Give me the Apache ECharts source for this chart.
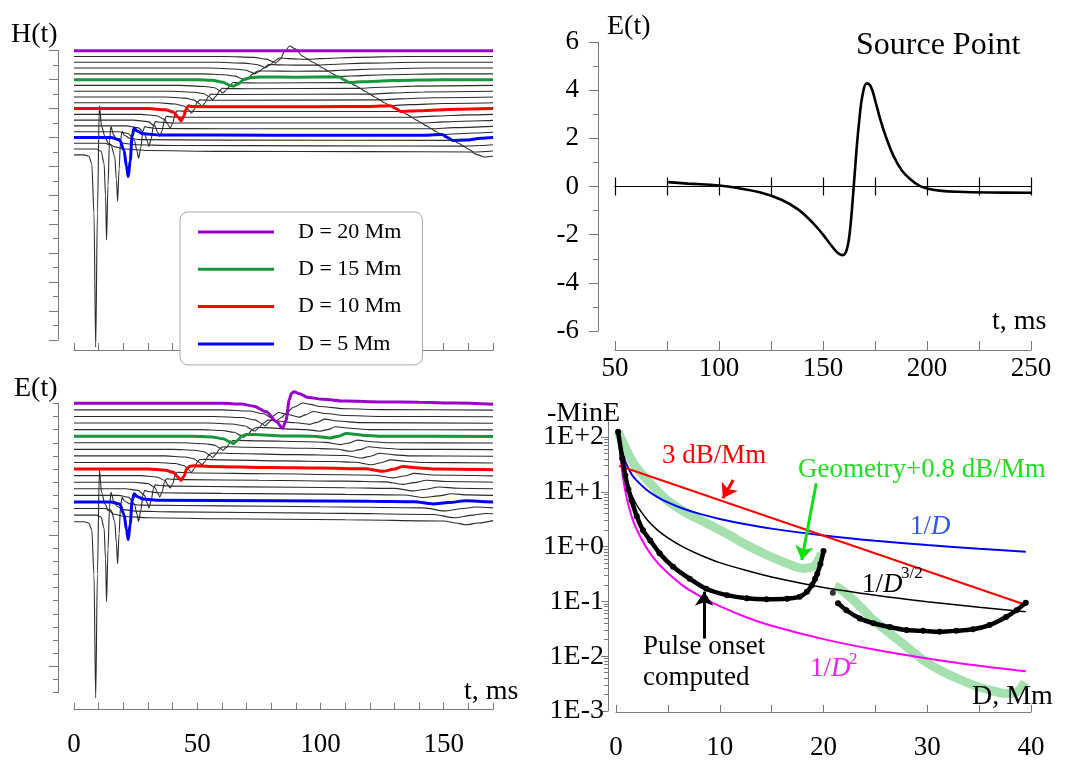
<!DOCTYPE html>
<html><head><meta charset="utf-8">
<script src="https://cdn.jsdelivr.net/npm/echarts@6/dist/echarts.min.js"></script>
<style>html,body{margin:0;padding:0;background:#fff}#c{width:1085px;height:760px}</style>
</head><body><div id="c"></div>
<script>
const FONT = "'Liberation Serif','Times New Roman',serif";
const G = '#7a7a7a';

// ---------- waterfall panels: distances, baselines ----------
const distances = [2,3,4,5,6,7,8,9,10,11,12,13,14,15,16,17,18,19,20];
const hBase = [12.8,13.2,13.6,14.0,14.4,14.8,15.2,15.6,16.0,16.4,16.8,17.2,17.6,18.0,18.4,18.8,19.2,19.6,20.0];
const eBase = [13,13.5,14,14.5,15,15.5,16,16.5,17,17.5,18,18.5,19,19.5,20,20.5,21,21.5,22];
const legendNames = ['D = 20 Mm','D = 15 Mm','D = 10 Mm','D = 5 Mm'];
const legendD = [20,15,10,5];
const legendColors = ['#9900cc','#17963a','#ff0000','#0000ff'];
const tLabels = [0,50,100,150];

// ---------- H(t) traces [t ms, value relative to baseline] ----------
const hD2 = [[0,0],[4,0],[6,-0.1],[7.2,-0.6],[8.1,-4],[8.8,-13.3],[9.5,-4],[10.3,3.4],[11.2,1.95],[12.6,1.25],[13.9,0.8],[16.6,0.55],[20.7,0.4],[30,0.3],[60,0.24],[120,0.22],[161,0.2],[164,0],[166.5,-0.15],[170,-0.1]];
const hD3 = [[0,0],[9,0],[11,-0.15],[12.2,-1],[12.8,-3.2],[13.2,-6.3],[13.8,-2.5],[14.4,0.6],[15,1.56],[16,1],[17.5,0.6],[20,0.4],[25,0.3],[40,0.25],[100,0.22],[157.9,0.2],[160,0],[162.1,-0.2],[170,-0.13]];
const hD4 = [[0,0],[12.5,0],[15,-0.12],[16.5,-0.9],[17.2,-2.5],[17.7,-4],[18.3,-1.8],[18.9,0.2],[19.5,0.81],[20.5,0.55],[22.5,0.35],[27,0.25],[60,0.22],[153.9,0.2],[156,0],[158.1,-0.2],[170,-0.1]];
const hD5 = [[0,0],[15,0],[18.5,-0.15],[20.3,-0.9],[21.3,-2],[22,-2.7],[22.8,-1.6],[23.6,0.1],[24.4,0.65],[25.6,0.45],[28,0.25],[35,0.18],[80,0.15],[140,0.15],[149.4,0.2],[151.5,0],[153.6,-0.2],[159,-0.18],[165,-0.05],[170,0]];
const hD6 = [[0,0],[18,0],[22,-0.12],[24.5,-0.6],[25.5,-1.3],[26.2,-1.83],[27.1,-1.1],[28,0.05],[28.7,0.36],[30,0.3],[34,0.22],[60,0.2],[144.9,0.2],[147,0],[149.1,-0.2],[158,-0.12],[170,-0.04]];
const hD7 = [[0,0],[21,0],[26,-0.12],[28.6,-0.5],[29.7,-1.05],[30.4,-1.42],[31.3,-0.9],[32.2,0],[33,0.3],[35,0.25],[40,0.2],[140.9,0.2],[143,0],[145.1,-0.2],[154,-0.12],[170,-0.03]];
const hD8 = [[0,0],[24,0],[30,-0.1],[32.8,-0.4],[34,-0.85],[34.8,-1.13],[35.8,-0.7],[36.7,0],[37.5,0.27],[40,0.22],[45,0.2],[136.9,0.2],[139,0],[141.1,-0.2],[150,-0.12],[165,-0.04],[170,-0.02]];
const hD9 = [[0,0],[27,0],[33.5,-0.1],[36.8,-0.35],[38.1,-0.7],[39,-0.96],[40.1,-0.6],[41,0],[41.8,0.25],[44,0.22],[50,0.2],[132.9,0.2],[135,0],[137.1,-0.2],[146,-0.12],[160,-0.04],[170,0]];
const hD10 = [[0,0],[30,0],[37,-0.08],[40.3,-0.23],[42.3,-0.6],[43.4,-0.85],[44.5,-0.55],[45.5,-0.05],[46.5,0.2],[48,0.14],[60,0.12],[100,0.12],[120,0.15],[128.4,0.2],[130.5,0],[132.6,-0.2],[140,-0.15],[155,-0.05],[170,0]];
const hD11 = [[0,0],[34,0],[41,-0.08],[44.5,-0.22],[46.6,-0.5],[47.6,-0.72],[48.8,-0.45],[49.9,0],[51,0.2],[53,0.18],[60,0.17],[123.9,0.2],[126,0],[128.1,-0.2],[136,-0.13],[150,-0.05],[170,0]];
const hD12 = [[0,0],[37,0],[45,-0.08],[48.6,-0.2],[50.8,-0.45],[51.9,-0.65],[53.2,-0.4],[54.4,0],[55.5,0.2],[58,0.18],[65,0.17],[119.9,0.2],[122,0],[124.1,-0.2],[132,-0.13],[146,-0.05],[170,0]];
const hD13 = [[0,0],[40,0],[49,-0.07],[52.8,-0.18],[55,-0.4],[56.2,-0.58],[57.6,-0.35],[58.9,0],[60,0.2],[63,0.18],[70,0.17],[115.9,0.2],[118,0],[120.1,-0.2],[128,-0.13],[142,-0.05],[170,0]];
const hD14 = [[0,0],[43,0],[53,-0.07],[57,-0.16],[59.2,-0.36],[60.4,-0.52],[61.9,-0.3],[63.3,0],[64.5,0.2],[67,0.18],[75,0.17],[111.9,0.2],[114,0],[116.1,-0.2],[124,-0.13],[138,-0.05],[170,0]];
const hD15 = [[0,0],[50,0],[56,-0.05],[60.5,-0.18],[63.2,-0.38],[64.6,-0.45],[66.5,-0.3],[69,0.02],[72,0.14],[76,0.19],[90,0.17],[107.4,0.2],[109.5,0],[111.6,-0.2],[116,-0.15],[130,-0.06],[150,0],[170,0]];
const hD16 = [[0,0],[52,0],[61,-0.06],[65.5,-0.16],[67.6,-0.3],[68.9,-0.42],[70.6,-0.27],[72.6,0],[74.5,0.2],[78,0.2],[90,0.18],[102.9,0.2],[105,0],[107.1,-0.2],[112,-0.15],[126,-0.06],[150,0],[170,0]];
const hD17 = [[0,0],[55,0],[65,-0.06],[69.8,-0.15],[71.9,-0.28],[73.2,-0.4],[75,-0.25],[77,0],[79,0.25],[83,0.22],[90,0.2],[98.9,0.2],[101,0],[103.1,-0.2],[108,-0.15],[122,-0.06],[145,0],[170,0]];
const hD18 = [[0,0],[58,0],[69,-0.06],[74,-0.15],[76.2,-0.27],[77.5,-0.38],[79.3,-0.22],[81.2,0.05],[83.2,0.3],[87,0.25],[94.9,0.2],[97,0],[99.1,-0.2],[104,-0.15],[118,-0.06],[140,0],[170,0]];
const hD19 = [[0,0],[61,0],[73,-0.06],[78,-0.18],[80.5,-0.35],[81.8,-0.46],[83.6,-0.2],[85.5,0.35],[87.5,0.73],[89.5,0.55],[93,0],[95.1,-0.2],[100,-0.15],[114,-0.06],[135,0],[170,0]];
const hD20 = [[0,0],[170,0]];
const hTraces = [hD2,hD3,hD4,hD5,hD6,hD7,hD8,hD9,hD10,hD11,hD12,hD13,hD14,hD15,hD16,hD17,hD18,hD19,hD20];

// ---------- E(t) traces ----------
const eD2 = [[0,0],[4,0],[6,-0.1],[7.2,-0.6],[8.1,-4],[8.8,-13.4],[9.5,-4],[10.3,3.95],[11.2,2.2],[12.6,1.35],[13.9,0.85],[16.6,0.55],[20.7,0.4],[30,0.3],[60,0.22],[110,0.15],[150,0.05],[155,-0.1],[159,-0.23],[164,-0.1],[170,0.08]];
const eD3 = [[0,0],[9,0],[11,-0.15],[12.2,-1],[12.8,-3.3],[13.2,-6.6],[13.8,-2.6],[14.4,0.6],[15,1.73],[16,1.1],[17.5,0.65],[20,0.42],[25,0.3],[40,0.25],[100,0.15],[146,0.05],[154.4,-0.2],[162,0],[167,0.12],[170,0.1]];
const eD4 = [[0,0],[12.5,0],[15,-0.12],[16.5,-0.95],[17.2,-2.6],[17.7,-4.2],[18.3,-1.9],[18.9,0.2],[19.5,0.85],[20.5,0.57],[22.5,0.36],[27,0.26],[60,0.2],[100,0.14],[142,0.05],[150.2,-0.18],[158,0],[163,0.12],[170,0.05]];
const eD5 = [[0,0],[15,0],[18.5,-0.16],[20.3,-0.95],[21.3,-2.1],[22,-2.86],[22.8,-1.7],[23.6,0.1],[24.4,0.63],[25.6,0.42],[28,0.22],[35,0.13],[80,0.1],[120,0.06],[138,0.02],[145.7,-0.15],[152,-0.05],[159,0.1],[165,0.04],[170,0]];
const eD6 = [[0,0],[18,0],[22,-0.13],[24.5,-0.65],[25.5,-1.4],[26.2,-1.97],[27.1,-1.15],[28,0.05],[28.7,0.38],[30,0.3],[34,0.2],[60,0.15],[110,0.08],[134,0.03],[141.8,-0.16],[148,-0.04],[153,0.12],[160,0.04],[170,0]];
const eD7 = [[0,0],[21,0],[26,-0.12],[28.6,-0.5],[29.7,-1.07],[30.4,-1.45],[31.3,-0.92],[32.2,0],[33,0.3],[35,0.25],[40,0.2],[70,0.15],[110,0.08],[130,0.03],[137.6,-0.16],[143,-0.03],[148,0.14],[156,0.04],[170,0]];
const eD8 = [[0,0],[24,0],[30,-0.1],[32.8,-0.4],[34,-0.84],[34.8,-1.12],[35.8,-0.7],[36.7,0],[37.5,0.27],[40,0.23],[45,0.2],[75,0.15],[110,0.08],[126,0.03],[133.4,-0.16],[138,-0.03],[143,0.15],[151,0.05],[170,0]];
const eD9 = [[0,0],[27,0],[33.5,-0.1],[36.8,-0.35],[38.1,-0.7],[39,-0.94],[40.1,-0.6],[41,0],[41.8,0.26],[44,0.24],[50,0.2],[80,0.14],[110,0.07],[122,0.03],[129.2,-0.17],[134,-0.03],[138,0.17],[146,0.05],[170,-0.02]];
const eD10 = [[0,0],[30,0],[37,-0.08],[40.3,-0.25],[42.3,-0.62],[43.4,-0.86],[44.6,-0.55],[45.7,0],[47,0.22],[48.5,0.26],[55,0.2],[80,0.12],[100,0.08],[118,0.02],[125.4,-0.17],[129.5,-0.02],[133.5,0.2],[140,0.08],[147,0],[170,-0.05]];
const eD11 = [[0,0],[34,0],[41,-0.08],[44.5,-0.23],[46.6,-0.53],[47.6,-0.75],[48.8,-0.47],[49.9,0],[51,0.22],[53,0.24],[60,0.2],[85,0.12],[105,0.07],[114,0.02],[120.8,-0.17],[124.6,-0.02],[128.5,0.2],[135,0.08],[142,0],[170,-0.04]];
const eD12 = [[0,0],[37,0],[45,-0.08],[48.6,-0.21],[50.8,-0.48],[51.9,-0.68],[53.2,-0.42],[54.4,0],[55.5,0.2],[58,0.22],[65,0.18],[90,0.1],[110,0.03],[116.6,-0.16],[120.3,-0.02],[124,0.2],[130,0.08],[137,0],[170,-0.03]];
const eD13 = [[0,0],[40,0],[49,-0.07],[52.8,-0.19],[55,-0.43],[56.2,-0.62],[57.6,-0.38],[58.9,0],[60,0.18],[63,0.2],[70,0.16],[95,0.08],[106,0.03],[112.4,-0.15],[116,-0.02],[119.5,0.2],[126,0.08],[133,0],[170,-0.02]];
const eD14 = [[0,0],[43,0],[53,-0.07],[57,-0.18],[59.2,-0.4],[60.4,-0.58],[61.9,-0.35],[63.3,0],[64.5,0.16],[67,0.18],[75,0.14],[95,0.08],[102,0.03],[108.2,-0.14],[111.6,-0.02],[115,0.2],[121,0.08],[128,0],[170,-0.02]];
const eD15 = [[0,0],[48,0],[56,-0.06],[60.5,-0.2],[63.2,-0.42],[64.6,-0.56],[66.3,-0.33],[68,0],[70,0.13],[73,0.13],[85,0.02],[97,0],[104,-0.13],[107.3,0],[110.5,0.2],[117,0.08],[125,0],[170,-0.02]];
const eD16 = [[0,0],[51,0],[60,-0.07],[65,-0.2],[67.5,-0.42],[68.9,-0.58],[70.6,-0.35],[72.4,0],[74.3,0.18],[77,0.15],[88,0.04],[94,0],[99.8,-0.12],[103,0],[106,0.22],[112,0.1],[120,0],[170,-0.02]];
const eD17 = [[0,0],[54,0],[64,-0.07],[69.5,-0.22],[71.8,-0.45],[73.2,-0.62],[75,-0.38],[76.8,0],[78.7,0.22],[82,0.16],[90,0.02],[95.6,-0.1],[98.6,0.05],[101.6,0.3],[107,0.15],[116,0.03],[170,-0.02]];
const eD18 = [[0,0],[57,0],[68,-0.08],[73.5,-0.26],[76,-0.52],[77.5,-0.72],[79.3,-0.42],[81,0.05],[83,0.3],[86.5,0.15],[91.4,-0.05],[94,0.12],[97,0.38],[102,0.22],[110,0.07],[125,0],[170,-0.02]];
const eD19 = [[0,0],[60,0],[71,-0.09],[77,-0.3],[80.4,-0.62],[82,-0.84],[84,-0.6],[86.2,-0.24],[89,0.2],[93,0.52],[96,0.42],[99.7,0.26],[110.5,0.08],[125,0.02],[170,-0.02]];
const eD20 = [[0,0],[60,0],[68,-0.06],[73,-0.22],[78,-0.64],[82.2,-1.4],[84.6,-1.9],[86,-1.3],[87.4,0.3],[88.2,0.75],[89.3,0.88],[91.5,0.72],[95,0.45],[101,0.3],[110,0.17],[125,0.1],[140,0.08],[155,0.02],[170,-0.08]];
const eTraces = [eD2,eD3,eD4,eD5,eD6,eD7,eD8,eD9,eD10,eD11,eD12,eD13,eD14,eD15,eD16,eD17,eD18,eD19,eD20];

// ---------- Source point E(t) ----------
const sourceT = [75.6,85,100,110,120,130,138,145,150,154,157,159.5,161.5,163,164.6,166,167.5,169,171,173,175,177.5,180.5,184,188,192,196,200,206,215,230,250];
const sourceE = [0.18,0.12,0.04,-0.08,-0.25,-0.55,-0.95,-1.5,-2.0,-2.45,-2.75,-2.85,-2.6,-1.8,-0.2,1.4,2.8,3.8,4.28,4.15,3.6,2.8,2.0,1.25,0.65,0.3,0.05,-0.08,-0.17,-0.22,-0.25,-0.26];
const srcXLabels = [50,100,150,200,250];

// ---------- -MinE vs D ----------
const dotsA_D = [0.2,0.6,0.9,1.2,1.5,2.0,2.6,3.3,4.2,5.5,7.1,8.7,10.7,12.6,14.5,16.5,17.7,18.4,18.9,19.2,19.4,19.7,20.0];
const dotsA_V = [125,41,20,11,7,3.6,2.0,1.3,0.76,0.43,0.26,0.17,0.13,0.114,0.11,0.112,0.122,0.15,0.2,0.26,0.32,0.48,0.83];
const dotLone = [[20.9,0.144]];
const dotsB_D = [21.4,22.2,23.5,24.8,26.4,28.0,29.6,31.2,32.8,34.4,36.0,37.6,38.6,39.5];
const dotsB_V = [0.093,0.069,0.049,0.040,0.034,0.030,0.029,0.028,0.029,0.031,0.037,0.052,0.069,0.095];
const geoA_D = [0.2,0.7,1.7,3.0,4.9,6.8,8.7,10.6,12.6,14.5,16.4,18.0,19.0,19.4,19.8];
const geoA_V = [125,77,33,16.5,7.1,4.1,2.7,1.75,1.07,0.71,0.5,0.40,0.43,0.52,0.76];
const geoB_D = [21.1,21.6,23.2,24.8,26.4,28.0,29.6,31.2,32.8,34.4,36,37.6,38.6,39.4];
const geoB_V = [0.19,0.17,0.093,0.046,0.026,0.015,0.0085,0.0056,0.0040,0.0030,0.0024,0.0021,0.0022,0.0034];
const curveD = [0.3,0.5,0.75,1,1.5,2,3,4,5,6.5,8,10,12.5,15,20,25,30,35,39.5];
const invD = [107,64,43,32,21,16,10.7,8,6.4,4.9,4,3.2,2.56,2.13,1.6,1.28,1.07,0.91,0.81];
const invD15 = [98,46,25,16.2,8.8,5.7,3.1,2.0,1.45,0.98,0.72,0.51,0.37,0.28,0.18,0.13,0.099,0.078,0.065];
const invD2 = [91,33,14.6,8.2,3.6,2.05,0.91,0.51,0.33,0.19,0.128,0.082,0.052,0.036,0.0205,0.0131,0.0091,0.0067,0.0053];
const att3dB = [[0.3,30],[39.6,0.085]];
const decadeExp = [-3,-2,-1,0,1,2];
const distLabels = [0,10,20,30,40];

// ---------- build ----------
const L = Math.log10;
const pairs = (xs, ys) => xs.map((x,i)=>[x, L(ys[i])]);
function traceSeries(traces, bases, xi, yi){
  const blacks=[], tops=[];
  traces.forEach((tr,i)=>{
    const D = distances[i];
    const s = {type:'line', xAxisIndex:xi, yAxisIndex:yi, data: tr.map(p=>[p[0], bases[i]+p[1]]),
      showSymbol:false, symbol:'none', smooth:0.3, smoothMonotone:'x', clip:false, silent:true};
    const k = legendD.indexOf(D);
    if (k>=0){ s.name=legendNames[k]; s.color=legendColors[k]; s.lineStyle={width:3,color:legendColors[k]}; s.z=3; tops.push(s); }
    else { s.lineStyle={width:1.1,color:'#2b2b2b'}; s.z=2; blacks.push(s); }
  });
  tops.reverse();
  return blacks.concat(tops);
}
const minorLog = [];
for (let n=-3;n<=1;n++) for (let k=2;k<=9;k++) minorLog.push(n+L(k));

const lab = (o)=>Object.assign({show:true,color:'#000',fontFamily:FONT,fontSize:27}, o);
const line = {show:true, onZero:false, lineStyle:{color:G,width:1}};
const noSplit = {show:false};

const option = {
  animation:false,
  backgroundColor:'#fff',
  grid:[
    {left:74, top:50.7, width:419, height:289.3, containLabel:false, outerBoundsMode:'none'},
    {left:74, top:403.3, width:419, height:289.4, containLabel:false, outerBoundsMode:'none'},
    {left:615, top:42, width:416, height:289, containLabel:false, outerBoundsMode:'none'},
    {left:616, top:421.7, width:415, height:289.3, containLabel:false, outerBoundsMode:'none'}
  ],
  xAxis:[
    {gridIndex:0, type:'value', position:'bottom', min:0, max:170, interval:10, offset:10, axisLine:line,
      axisTick:{show:true, inside:true, length:7, lineStyle:{color:G}}, axisLabel:{show:false}, splitLine:noSplit},
    {gridIndex:1, type:'value', position:'bottom', min:0, max:170, interval:10, offset:17, axisLine:line,
      axisTick:{show:true, inside:true, length:7, lineStyle:{color:G}}, axisLabel:lab({customValues:tLabels, margin:22}), splitLine:noSplit},
    {gridIndex:2, type:'value', position:'bottom', min:50, max:250, interval:25, offset:19, axisLine:line,
      axisTick:{show:true, inside:true, length:9, lineStyle:{color:G}}, axisLabel:lab({customValues:srcXLabels, margin:5}), splitLine:noSplit},
    {gridIndex:2, type:'value', position:'bottom', min:50, max:250, interval:25,
      axisLine:{show:true, onZero:true, onZeroAxisIndex:3, lineStyle:{color:'#000',width:1.2}},
      axisTick:{show:true, inside:false, length:9, lineStyle:{color:'#000',width:1.2}}, axisLabel:{show:false}, splitLine:noSplit},
    {gridIndex:2, type:'value', position:'top', min:50, max:250, interval:25,
      axisLine:{show:true, onZero:true, onZeroAxisIndex:3, lineStyle:{color:'#000',width:1.2}},
      axisTick:{show:true, inside:false, length:9, lineStyle:{color:'#000',width:1.2}}, axisLabel:{show:false}, splitLine:noSplit},
    {gridIndex:3, type:'value', position:'bottom', min:0, max:40, interval:5, offset:1, axisLine:line,
      axisTick:{show:true, inside:true, length:7, lineStyle:{color:G}}, axisLabel:lab({customValues:distLabels, margin:22}), splitLine:noSplit}
  ],
  yAxis:[
    {gridIndex:0, type:'value', position:'left', min:0, max:20, interval:2, offset:16, axisLine:line,
      axisTick:{show:true, length:9, lineStyle:{color:G}}, minorTick:{show:true, splitNumber:2, length:5, lineStyle:{color:G}},
      axisLabel:{show:false}, splitLine:noSplit, minorSplitLine:{show:false}},
    {gridIndex:1, type:'value', position:'left', min:0, max:22, interval:1, offset:16, axisLine:line,
      axisTick:{show:true, length:5, lineStyle:{color:G}}, axisLabel:{show:false}, splitLine:noSplit},
    {gridIndex:1, type:'value', position:'left', min:0, max:22, offset:16, axisLine:{show:false, onZero:false},
      axisTick:{show:true, length:9, customValues:[2,12], lineStyle:{color:G}}, axisLabel:{show:false}, splitLine:noSplit},
    {gridIndex:2, type:'value', position:'left', min:-6, max:6, interval:2, offset:17, axisLine:line,
      axisTick:{show:true, length:9, lineStyle:{color:G}}, minorTick:{show:true, splitNumber:2, length:5, lineStyle:{color:G}},
      axisLabel:lab({margin:19}), splitLine:noSplit, minorSplitLine:{show:false}},
    {gridIndex:3, type:'value', position:'left', min:-3, max:2.28, offset:8, axisLine:line,
      axisTick:{show:true, length:7, customValues:decadeExp, lineStyle:{color:G}},
      axisLabel:lab({customValues:decadeExp, margin:4, fontSize:28,
        formatter:v=>{const e=Math.round(v); return '1E'+(e>=0?'+':'-')+Math.abs(e);}}), splitLine:noSplit},
    {gridIndex:3, type:'value', position:'left', min:-3, max:2.28, offset:8, axisLine:{show:false, onZero:false},
      axisTick:{show:true, length:4, customValues:minorLog, lineStyle:{color:G}}, axisLabel:{show:false}, splitLine:noSplit}
  ],
  legend:{
    data:legendNames, orient:'vertical', left:180, top:212, padding:[8,21,9,18],
    itemWidth:76, itemHeight:3, itemGap:13.3, icon:'rect', selectedMode:false, z:10,
    backgroundColor:'#fff', borderColor:'#aaa', borderWidth:1, borderRadius:8,
    textStyle:{fontFamily:FONT, fontSize:22, color:'#000', lineHeight:24, padding:[0,0,0,19]}
  },
  series:[]
};

option.series = option.series
  .concat(traceSeries(hTraces, hBase, 0, 0))
  .concat(traceSeries(eTraces, eBase, 1, 1));

option.series.push({type:'line', xAxisIndex:2, yAxisIndex:3, data:sourceT.map((t,i)=>[t,sourceE[i]]),
  showSymbol:false, symbol:'none', smooth:0.4, lineStyle:{color:'#000', width:2.6}, silent:true, z:3});

const br = {xAxisIndex:5, yAxisIndex:4, silent:true, clip:false};
option.series.push(Object.assign({type:'line', data:pairs(geoA_D,geoA_V), showSymbol:false, symbol:'none', smooth:0.3,
  lineStyle:{color:'rgba(105,205,120,0.6)', width:9}, z:2,
  markLine:{silent:true, symbol:['none','arrow'], symbolSize:14, label:{show:false},
    lineStyle:{color:'#10e010', width:3, type:'solid', opacity:1},
    data:[[{coord:[19.3, L(14.3)]},{coord:[17.9, L(0.57)]}]]}}, br));
option.series.push(Object.assign({type:'line', data:pairs(geoB_D,geoB_V), showSymbol:false, symbol:'none', smooth:0.3,
  lineStyle:{color:'rgba(105,205,120,0.6)', width:9}, z:2}, br));
option.series.push(Object.assign({type:'line', data:pairs(curveD,invD), showSymbol:false, symbol:'none', smooth:0.3,
  lineStyle:{color:'#0000ff', width:2}, z:3}, br));
option.series.push(Object.assign({type:'line', data:pairs(curveD,invD15), showSymbol:false, symbol:'none', smooth:0.3,
  lineStyle:{color:'#000', width:1.5}, z:3}, br));
option.series.push(Object.assign({type:'line', data:pairs(curveD,invD2), showSymbol:false, symbol:'none', smooth:0.3,
  lineStyle:{color:'#ff00ff', width:2}, z:3}, br));
option.series.push(Object.assign({type:'line', data:att3dB.map(p=>[p[0],L(p[1])]), showSymbol:false, symbol:'none',
  lineStyle:{color:'#ff0000', width:2}, z:4,
  markLine:{silent:true, symbol:['none','arrow'], symbolSize:14, label:{show:false},
    lineStyle:{color:'#ff0000', width:3, type:'solid'},
    data:[[{coord:[11.3, L(16.4)]},{coord:[10.3, L(7.6)]}]]}}, br));
option.series.push(Object.assign({type:'line', data:pairs(dotsA_D,dotsA_V), showSymbol:true, symbol:'circle', symbolSize:6,
  smooth:0.3, itemStyle:{color:'#000'}, lineStyle:{color:'#000', width:4.5}, z:5,
  markLine:{silent:true, symbol:['none','arrow'], symbolSize:14, label:{show:false},
    lineStyle:{color:'#000', width:3, type:'solid'},
    data:[[{coord:[8.5, L(0.021)]},{coord:[8.5, L(0.15)]}]]}}, br));
option.series.push(Object.assign({type:'line', data:pairs(dotsB_D,dotsB_V), showSymbol:true, symbol:'circle', symbolSize:6,
  smooth:0.3, itemStyle:{color:'#000'}, lineStyle:{color:'#000', width:4.5}, z:5}, br));
option.series.push(Object.assign({type:'scatter', data:dotLone.map(p=>[p[0],L(p[1])]), symbol:'circle', symbolSize:6,
  itemStyle:{color:'#000'}, z:5}, br));

function txt(x,y,text,size,fill,extra){
  return {type:'text', x:x, y:y, z:20, silent:true,
    style:Object.assign({text:text, fontFamily:FONT, fontSize:size, fill:fill||'#000', align:'left', verticalAlign:'middle'}, extra||{})};
}
const ital = (c)=>({i:{fontStyle:'italic', fontFamily:FONT, fontSize:27, fill:c}});
option.graphic = {elements:[
  txt(11,35,'H(t)',28),
  txt(14,389,'E(t)',28),
  txt(607,27,'E(t)',28),
  txt(856,46,'Source Point',32),
  txt(992,322,'t, ms',28),
  txt(464,692,'t, ms',28),
  txt(547,414,'-MinE',28),
  txt(972,697,'D, Mm',28),
  txt(662,456,'3 dB/Mm',27,'#ff0000'),
  txt(798,470,'Geometry+0.8 dB/Mm',27,'#22dd22'),
  txt(910,527,'1/{i|D}',27,'#3355ee',{rich:ital('#3355ee')}),
  txt(862,585,'1/{i|D}',27,'#000',{rich:ital('#000')}),
  txt(901,574,'3/2',17,'#000'),
  txt(810,669,'1/{i|D}',27,'#ee22ee',{rich:ital('#ee22ee')}),
  txt(849,660,'2',17,'#ee22ee'),
  txt(643,647,'Pulse onset',27),
  txt(643,678,'computed',27)
]};

const chart = echarts.init(document.getElementById('c'), null, {renderer:'canvas'});
chart.setOption(option);
</script></body></html>
